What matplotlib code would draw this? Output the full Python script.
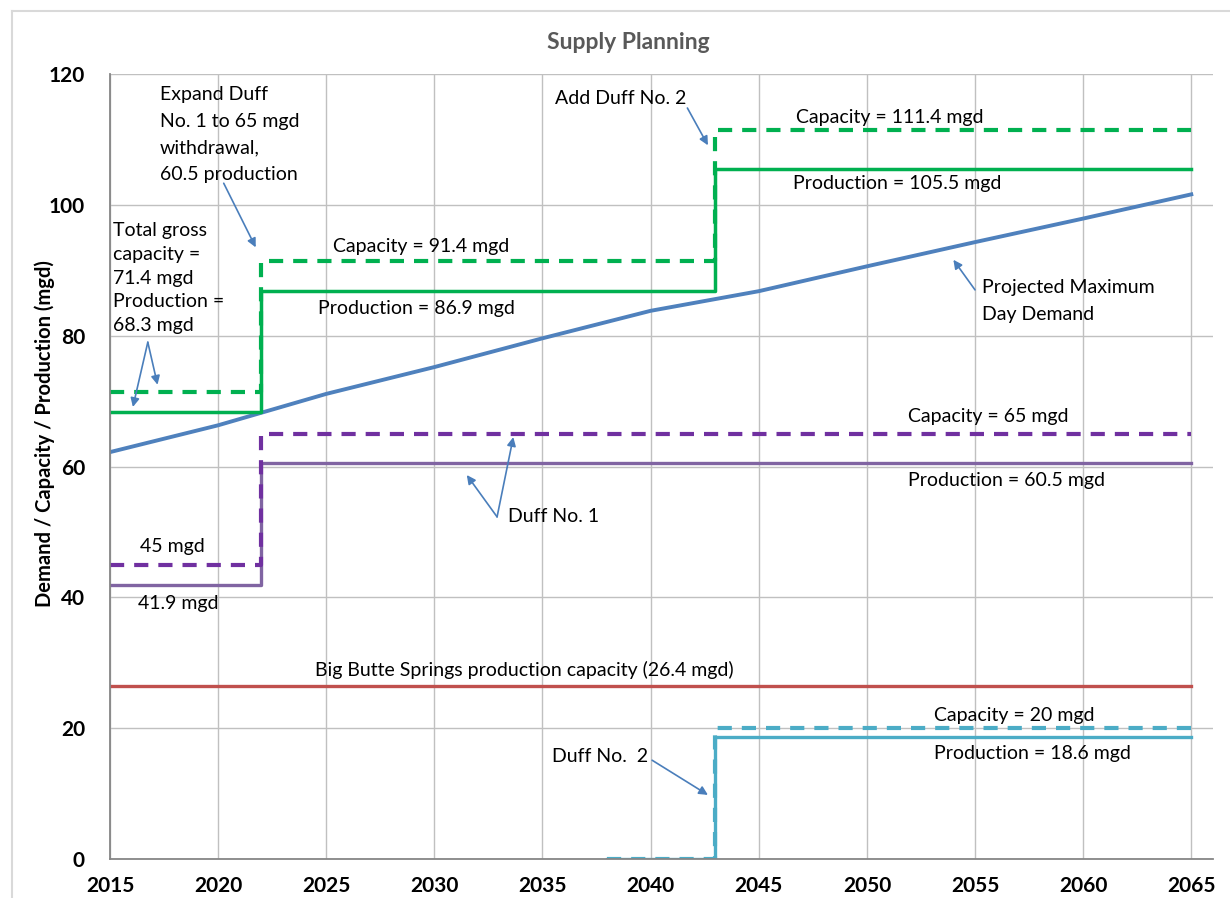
import matplotlib.pyplot as plt
from matplotlib.lines import Line2D

# projected maximum day demand (mgd)
demand_years = [2015, 2020, 2025, 2030, 2035, 2040, 2045, 2050, 2055, 2060, 2065]
demand = [62.2, 66.3, 71.1, 75.2, 79.6, 83.8, 86.8, 90.6, 94.3, 97.9, 101.6]

# step series: breakpoint years and value from that year on
total_years = [2015, 2022, 2043, 2065]
total_capacity = [71.4, 91.4, 111.4, 111.4]
total_production = [68.3, 86.9, 105.5, 105.5]

duff1_years = [2015, 2022, 2065]
duff1_capacity = [45, 65, 65]
duff1_production = [41.9, 60.5, 60.5]

duff2_years = [2038, 2043, 2065]
duff2_capacity = [0, 20, 20]
duff2_production = [0, 18.6, 18.6]

bigbutte_years = [2015, 2065]
bigbutte = [26.4, 26.4]

GREEN = "#00B050"
PURPLE_D = "#7030A0"
PURPLE = "#8064A2"
RED = "#C0504D"
BLUE = "#4F81BD"
CYAN = "#4BACC6"
ARROW = "#4A7EBB"

plt.rcParams["font.family"] = ["Lato", "DejaVu Sans"]

fig = plt.figure(figsize=(12.3, 8.98), dpi=100)
ax = fig.add_axes([0.0894, 0.0434, 0.8967, 0.8742])

dash = (0, (3.4, 2.4))
ax.plot(bigbutte_years, bigbutte, color=RED, lw=2.4)
ax.plot(duff2_years, duff2_production, color=CYAN, lw=2.4, drawstyle="steps-post")
ax.plot(duff2_years, duff2_capacity, color=CYAN, lw=3, ls=dash, drawstyle="steps-post")
ax.plot(duff1_years, duff1_production, color=PURPLE, lw=2.4, drawstyle="steps-post")
ax.plot(duff1_years, duff1_capacity, color=PURPLE_D, lw=3, ls=dash, drawstyle="steps-post")
ax.plot(demand_years, demand, color=BLUE, lw=2.8)
ax.plot(total_years, total_production, color=GREEN, lw=2.5, drawstyle="steps-post")
ax.plot(total_years, total_capacity, color=GREEN, lw=3, ls=dash, drawstyle="steps-post")

ax.set_xlim(2015, 2066)
ax.set_ylim(0, 120)
ax.set_xticks(range(2015, 2066, 5))
ax.set_yticks(range(0, 121, 20))
ax.tick_params(length=0, labelsize=15)
ax.tick_params(axis="x", pad=12)
ax.tick_params(axis="y", pad=18)
for lab in ax.get_xticklabels() + ax.get_yticklabels():
    lab.set_fontweight("bold")
ax.grid(True, color="#C0C0C0", lw=1)
ax.set_axisbelow(True)
for side in ["top", "right"]:
    ax.spines[side].set_visible(False)
for side in ["left", "bottom"]:
    ax.spines[side].set_color("#868686")
    ax.spines[side].set_linewidth(1.3)

fig.text(0.5106, 0.953, "Supply Planning", ha="center", va="center",
         fontsize=16.5, fontweight="bold", color="#595959")
fig.text(0.0366, 0.5167, "Demand / Capacity / Production (mgd)", rotation=90,
         ha="center", va="center", fontsize=14.5, fontweight="bold")

# chart border
fig.add_artist(Line2D([0.00976, 0.00976], [0, 0.9878], color="#D9D9D9", lw=1.5))
fig.add_artist(Line2D([0.00976, 1], [0.9878, 0.9878], color="#D9D9D9", lw=1.5))

fs = 14
labels = [
    (2046.7, 113.4, "Capacity = 111.4 mgd"),
    (2046.6, 103.3, "Production = 105.5 mgd"),
    (2025.3, 93.7, "Capacity = 91.4 mgd"),
    (2024.6, 84.2, "Production = 86.9 mgd"),
    (2051.9, 67.6, "Capacity = 65 mgd"),
    (2051.9, 57.8, "Production = 60.5 mgd"),
    (2016.4, 47.8, "45 mgd"),
    (2016.3, 39.1, "41.9 mgd"),
    (2024.5, 28.9, "Big Butte Springs production capacity (26.4 mgd)"),
    (2053.1, 21.9, "Capacity = 20 mgd"),
    (2053.1, 16.2, "Production = 18.6 mgd"),
    (2035.6, 116.3, "Add Duff No. 2"),
    (2033.4, 52.4, "Duff No. 1"),
    (2035.45, 15.7, "Duff No.  2"),
]
for x, y, s in labels:
    ax.text(x, y, s, ha="left", va="center", fontsize=fs)

ax.text(2017.3, 118.1, "Expand Duff\nNo. 1 to 65 mgd\nwithdrawal,\n60.5 production",
        ha="left", va="top", fontsize=fs, linespacing=1.68)
ax.text(2015.15, 97.4, "Total gross\ncapacity =\n71.4 mgd\nProduction =\n68.3 mgd",
        ha="left", va="top", fontsize=fs, linespacing=1.49)
ax.text(2055.3, 88.6, "Projected Maximum\nDay Demand",
        ha="left", va="top", fontsize=fs, linespacing=1.68)

arrows = [
    ((2020.26, 103.3), (2021.74, 93.5)),
    ((2016.75, 79.0), (2016.06, 69.1)),
    ((2016.75, 79.0), (2017.2, 72.5)),
    ((2041.7, 114.8), (2042.65, 109.1)),
    ((2055.0, 87.0), (2054.0, 91.6)),
    ((2032.9, 52.3), (2031.5, 58.7)),
    ((2032.9, 52.3), (2033.65, 64.5)),
    ((2040.07, 15.1), (2042.65, 9.8)),
]
for start, end in arrows:
    ax.annotate("", xy=end, xytext=start,
                arrowprops=dict(arrowstyle="-|>", color=ARROW, lw=1.2,
                                mutation_scale=13, shrinkA=0, shrinkB=0))

plt.savefig("out.png", dpi=100)
